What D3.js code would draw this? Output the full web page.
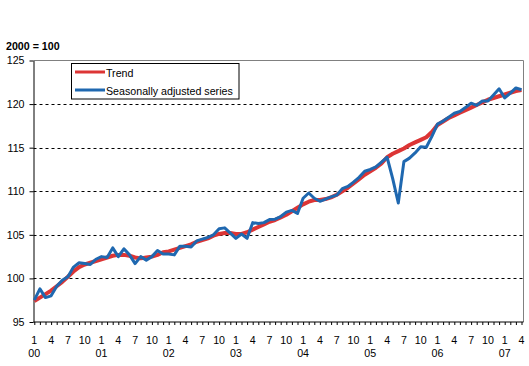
<!DOCTYPE html>
<html><head><meta charset="utf-8">
<script src="https://cdn.jsdelivr.net/npm/d3@7"></script>
<style>
body{margin:0;background:#fff;}
text{font-family:"Liberation Sans",Arial,sans-serif;font-size:10.67px;fill:#000;}
</style>
</head><body><svg id="c" width="529" height="366"></svg>
<script>
const unitLabel = "2000 = 100";
const years = ["00","01","02","03","04","05","06","07"];
const monthTickLabels = [1,4,7,10];
const yTicks = [95,100,105,110,115,120,125];
const gridValues = [100,105,110,115,120];
const seriesNames = ["Trend","Seasonally adjusted series"];
const seriesColors = ["#dc3535","#1f68b0"];

const trend = [
 97.4, 97.8, 98.2, 98.6, 99.1, 99.6,100.2,100.8,101.3,101.6,101.8,102.0,
102.2,102.4,102.6,102.7,102.7,102.6,102.4,102.3,102.4,102.5,102.7,103.0,
103.1,103.3,103.5,103.7,103.9,104.2,104.4,104.6,104.9,105.1,105.2,105.2,
105.1,105.1,105.3,105.6,105.9,106.2,106.5,106.7,107.0,107.3,107.7,108.1,
108.5,108.8,109.0,109.0,109.1,109.3,109.6,110.0,110.4,110.9,111.4,111.9,
112.3,112.7,113.2,113.9,114.3,114.6,114.9,115.3,115.6,115.9,116.2,116.8,
117.6,118.0,118.4,118.7,119.0,119.3,119.6,119.9,120.2,120.5,120.7,120.9,
121.1,121.3,121.5,121.6
];
const seasonal = [
 97.5, 98.8, 97.8, 98.0, 99.1, 99.8,100.2,101.3,101.8,101.7,101.6,102.2,
102.5,102.4,103.5,102.5,103.4,102.7,101.7,102.5,102.1,102.5,103.2,102.8,
102.8,102.7,103.7,103.7,103.6,104.3,104.5,104.7,105.0,105.7,105.8,105.2,
104.6,105.1,104.6,106.4,106.3,106.4,106.75,106.8,107.1,107.6,107.8,107.45,
109.2,109.8,109.2,108.85,109.1,109.35,109.55,110.3,110.55,111.05,111.6,112.3,
112.5,112.8,113.35,113.9,111.45,108.65,113.4,113.8,114.4,115.1,115.05,116.3,
117.7,118.05,118.5,118.95,119.15,119.6,120.1,119.85,120.35,120.35,121.05,121.75,
120.7,121.25,121.85,121.65
];

const months = d3.range(trend.length);
const svg = d3.select("#c");
const x = d3.scaleLinear().domain([0, months.length-1]).range([34.3, 521.5]);
const y = d3.scaleLinear().domain([95,125]).range([322, 60.5]);
const left = 33.5, right = 523.5;

// unit label
svg.append("text").attr("x",6).attr("y",50).style("font-weight","bold").text(unitLabel);

// frame top/right
svg.append("path").attr("d",`M${left},${y(125)}H${right}V${y(95)}`).attr("fill","none").attr("stroke","#808080").attr("stroke-width",1);

// gridlines
svg.append("g").selectAll("line").data(gridValues).join("line")
  .attr("x1",left).attr("x2",right)
  .attr("y1",d=>Math.round(y(d))+0.5).attr("y2",d=>Math.round(y(d))+0.5)
  .attr("stroke","#000").attr("stroke-dasharray","3,3").attr("stroke-width",1);

// y axis
const gy = svg.append("g").attr("transform",`translate(${left},0)`)
  .call(d3.axisLeft(y).tickValues(yTicks).tickSize(4).tickPadding(5).tickSizeOuter(0));
gy.select(".domain").attr("stroke","#000");
gy.selectAll("text").style("font-family",null).style("font-size",null).attr("font-family",null).attr("font-size",null);
gy.attr("font-family",null).attr("font-size",null);

// x axis
const gx = svg.append("g").attr("transform",`translate(0,${y(95)})`)
  .call(d3.axisBottom(x).tickValues(months).tickSize(3).tickFormat("").tickSizeOuter(0));
gx.select(".domain").remove();
svg.append("line").attr("x1",left).attr("x2",right).attr("y1",y(95)).attr("y2",y(95)).attr("stroke","#000");

// month & year labels
const labelMonths = months.filter(i => monthTickLabels.includes(i%12+1));
svg.append("g").selectAll("text").data(labelMonths).join("text")
  .attr("x",d=>x(d)).attr("y",343.5).attr("text-anchor","middle").text(d=>d%12+1);
svg.append("g").selectAll("text").data(years).join("text")
  .attr("x",(d,i)=>x(i*12)).attr("y",357).attr("text-anchor","middle").text(d=>d);

// lines
const line = d3.line().x((d,i)=>x(i)).y(d=>y(d));
svg.append("path").datum(trend).attr("d",line).attr("fill","none")
  .attr("stroke",seriesColors[0]).attr("stroke-width",4).attr("stroke-linejoin","round");
svg.append("path").datum(seasonal).attr("d",line).attr("fill","none")
  .attr("stroke",seriesColors[1]).attr("stroke-width",3).attr("stroke-linejoin","round");

// legend
const lg = svg.append("g");
lg.append("rect").attr("x",71.5).attr("y",63.5).attr("width",167.5).attr("height",35.5)
  .attr("fill","#fff").attr("stroke","#000");
seriesNames.forEach((n,i)=>{
  const yy = i===0 ? 72 : 90;
  lg.append("line").attr("x1",75).attr("x2",105).attr("y1",yy).attr("y2",yy)
    .attr("stroke",seriesColors[i]).attr("stroke-width",3);
  lg.append("text").attr("x",106).attr("y",yy+4.5).text(n);
});
</script>
</body></html>
